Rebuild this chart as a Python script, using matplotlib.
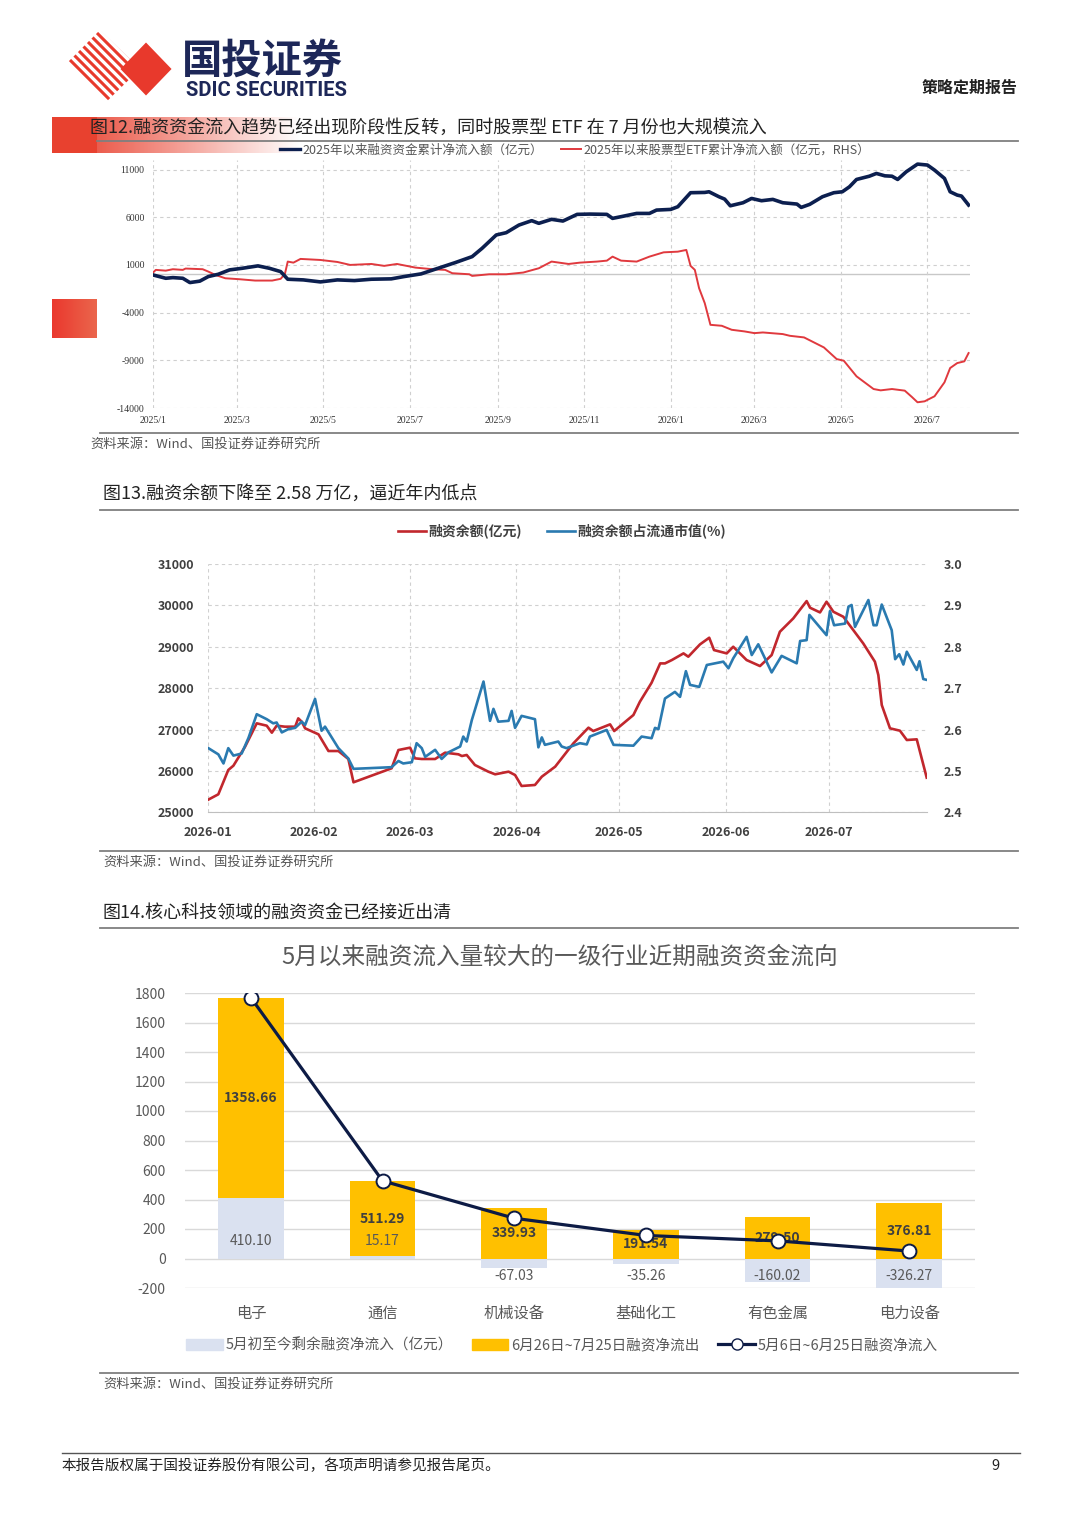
import numpy as np
import pandas as pd
import matplotlib
matplotlib.use("Agg")
import matplotlib.pyplot as plt
from matplotlib.lines import Line2D
from matplotlib.patches import Rectangle, Polygon

plt.rcParams['font.family'] = ['Noto Sans CJK SC', 'DejaVu Sans']
plt.rcParams['axes.unicode_minus'] = False

# ---------------- data: chart 12 (cumulative flows since 2025) ----------------
margin_dates = ["2025-01-01", "2025-01-10", "2025-01-15", "2025-01-22", "2025-01-27",
                "2025-02-03", "2025-02-09", "2025-02-16", "2025-02-24", "2025-03-05",
                "2025-03-16", "2025-03-24", "2025-04-01", "2025-04-06", "2025-04-17",
                "2025-04-29", "2025-05-11", "2025-05-23", "2025-06-04", "2025-06-18",
                "2025-06-27", "2025-07-09", "2025-07-21", "2025-08-02", "2025-08-14",
                "2025-08-21", "2025-08-31", "2025-09-07", "2025-09-16", "2025-09-25",
                "2025-09-30", "2025-10-09", "2025-10-17", "2025-10-27", "2025-11-05",
                "2025-11-17", "2025-11-21", "2025-11-29", "2025-12-08", "2025-12-17",
                "2025-12-22", "2026-01-01", "2026-01-06", "2026-01-15", "2026-01-25",
                "2026-01-28", "2026-02-04", "2026-02-08", "2026-02-12", "2026-02-21",
                "2026-02-27", "2026-03-06", "2026-03-14", "2026-03-21", "2026-03-31",
                "2026-04-03", "2026-04-09", "2026-04-18", "2026-04-26", "2026-05-02",
                "2026-05-07", "2026-05-12", "2026-05-21", "2026-05-26", "2026-06-01",
                "2026-06-06", "2026-06-10", "2026-06-16", "2026-06-24", "2026-07-01",
                "2026-07-06", "2026-07-13", "2026-07-17", "2026-07-22", "2026-07-25",
                "2026-07-30"]
margin_flow = [-50, -400, -330, -400, -850, -700, -220, 20, 480, 650, 900, 650, 300,
               -500, -570, -780, -570, -640, -500, -460, -220, 60, 650, 1240, 1870,
               2740, 4140, 4380, 5180, 5640, 5360, 5780, 5600, 6300, 6330, 6300, 5880,
               6120, 6400, 6400, 6750, 6820, 7100, 8570, 8600, 8670, 8150, 7900, 7200,
               7520, 7970, 7730, 7870, 7520, 7380, 7030, 7350, 8150, 8570, 8670, 9190,
               9960, 10300, 10590, 10340, 10300, 9960, 10760, 11570, 11470, 10940,
               10070, 8670, 8320, 8220, 7280]

etf_dates = ["2025-01-01", "2025-01-03", "2025-01-10", "2025-01-15", "2025-01-22",
             "2025-01-24", "2025-02-05", "2025-02-09", "2025-02-14", "2025-02-21",
             "2025-03-03", "2025-03-14", "2025-03-26", "2025-04-01", "2025-04-04",
             "2025-04-06", "2025-04-10", "2025-04-15", "2025-04-29", "2025-05-11",
             "2025-05-20", "2025-06-04", "2025-06-13", "2025-06-22", "2025-07-05",
             "2025-07-17", "2025-07-26", "2025-07-31", "2025-08-12", "2025-08-14",
             "2025-08-26", "2025-09-07", "2025-09-19", "2025-09-30", "2025-10-09",
             "2025-10-21", "2025-10-29", "2025-11-10", "2025-11-17", "2025-11-21",
             "2025-11-27", "2025-12-08", "2025-12-17", "2025-12-27", "2026-01-06",
             "2026-01-12", "2026-01-15", "2026-01-18", "2026-01-21", "2026-01-25",
             "2026-01-29", "2026-02-06", "2026-02-13", "2026-02-22", "2026-03-01",
             "2026-03-07", "2026-03-21", "2026-03-26", "2026-04-05", "2026-04-19",
             "2026-04-28", "2026-05-03", "2026-05-12", "2026-05-24", "2026-05-29",
             "2026-06-06", "2026-06-15", "2026-06-20", "2026-06-24", "2026-06-29",
             "2026-07-06", "2026-07-13", "2026-07-17", "2026-07-22", "2026-07-27",
             "2026-07-30"]
etf_flow = [200, 480, 400, 550, 480, 620, 550, 300, -50, -400, -500, -640, -640, -460,
            60, 1350, 1240, 1630, 1520, 1310, 1000, 1100, 900, 1100, 720, 550, 480, 130,
            20, -150, 20, 20, 200, 650, 1350, 1100, 1240, 1350, 1450, 1870, 1450, 1350,
            1870, 2320, 2390, 2570, 900, 480, -1440, -3010, -5280, -5380, -5800, -5970,
            -6150, -6080, -6250, -6430, -6600, -7650, -8870, -9040, -10680, -12010,
            -12150, -12010, -12180, -12840, -13400, -13300, -12770, -11310, -9810,
            -9290, -9110, -8240]

# ---------------- data: chart 13 (margin balance, days since 2026-01-01) ----------------
bal_day = [0.0, 3.1, 6.0, 7.5, 10.9, 14.3, 17.2, 18.7, 20.1, 22.5, 25.5, 26.4, 27.4, 28.4,
           32.3, 35.2, 38.1, 41.0, 42.5, 53.6, 55.6, 59.0, 60.4, 62.4, 66.3, 69.2, 73.1,
           74.1, 75.5, 77.9, 81.8, 83.8, 87.7, 89.6, 91.5, 95.4, 97.4, 101.3, 106.6,
           111.0, 112.4, 117.3, 118.5, 124.1, 126.0, 129.4, 131.9, 133.3, 135.3, 138.7,
           140.1, 143.5, 146.2, 147.6, 151.3, 153.2, 157.1, 161.0, 164.4, 166.8, 170.7,
           174.6, 175.6, 178.5, 180.4, 182.4, 185.3, 188.2, 191.1, 194.5, 195.5, 196.5,
           198.9, 201.8, 203.8, 206.7, 209.6]
balance = [25298, 25435, 26022, 26127, 26586, 27150, 27093, 26924, 27093, 27069, 27069,
           27270, 27190, 27029, 26884, 26481, 26481, 26288, 25725, 26063, 26505, 26562,
           26304, 26288, 26288, 26441, 26401, 26360, 26385, 26143, 25982, 25918, 25982,
           25901, 25636, 25660, 25861, 26103, 26666, 27045, 26964, 27125, 26964, 27351,
           27673, 28131, 28598, 28598, 28679, 28840, 28760, 29057, 29218, 28920, 28840,
           29001, 28679, 28534, 28800, 29363, 29685, 30104, 29943, 29830, 30088, 29846,
           29725, 29403, 29081, 28639, 28317, 27592, 27029, 26972, 26747, 26763, 25837]

ratio_day = [0.0, 3.1, 4.6, 6.0, 7.5, 9.9, 11.9, 14.3, 17.2, 19.1, 20.1, 21.6, 23.5, 25.5,
             27.4, 28.4, 31.3, 33.2, 34.2, 38.1, 41.0, 42.5, 53.6, 55.6, 57.0, 59.5, 60.9,
             62.4, 63.4, 66.3, 68.2, 70.2, 73.6, 74.5, 75.5, 77.0, 80.4, 82.3, 83.3, 84.7,
             87.7, 88.6, 89.6, 91.5, 95.4, 96.4, 97.4, 98.3, 102.2, 103.2, 104.6, 108.5,
             110.5, 111.4, 116.3, 118.3, 124.1, 126.5, 129.4, 130.4, 131.4, 133.3, 136.2,
             137.7, 139.4, 140.6, 143.3, 145.5, 147.9, 150.3, 151.8, 153.2, 157.1, 158.6,
             160.5, 164.4, 167.3, 171.7, 172.7, 174.6, 175.4, 180.4, 181.4, 182.6, 185.8,
             186.8, 187.7, 188.7, 192.6, 194.1, 195.0, 196.5, 199.4, 200.4, 201.6, 202.8,
             203.8, 206.7, 207.5, 208.6, 209.6]
ratio = [2.556, 2.540, 2.518, 2.555, 2.537, 2.542, 2.580, 2.637, 2.625, 2.615, 2.617,
         2.593, 2.601, 2.604, 2.619, 2.611, 2.674, 2.597, 2.607, 2.555, 2.530, 2.505,
         2.509, 2.524, 2.518, 2.521, 2.567, 2.555, 2.534, 2.551, 2.529, 2.545, 2.559,
         2.583, 2.571, 2.623, 2.716, 2.621, 2.650, 2.619, 2.621, 2.645, 2.604, 2.633,
         2.625, 2.557, 2.581, 2.563, 2.571, 2.559, 2.555, 2.567, 2.564, 2.583, 2.599,
         2.563, 2.561, 2.583, 2.579, 2.604, 2.601, 2.675, 2.691, 2.679, 2.741, 2.708,
         2.703, 2.756, 2.760, 2.764, 2.748, 2.772, 2.824, 2.780, 2.806, 2.738, 2.778,
         2.760, 2.814, 2.816, 2.877, 2.828, 2.886, 2.852, 2.856, 2.897, 2.901, 2.848,
         2.913, 2.852, 2.852, 2.902, 2.840, 2.770, 2.782, 2.757, 2.788, 2.744, 2.765,
         2.722, 2.720]
month_labels = ["2026-01", "2026-02", "2026-03", "2026-04", "2026-05", "2026-06", "2026-07"]
month_start_day = [0, 31, 59, 90, 120, 151, 181]

# ---------------- data: chart 14 (industries) ----------------
industries = ["电子", "通信", "机械设备", "基础化工", "有色金属", "电力设备"]
remaining = [410.10, 15.17, -67.03, -35.26, -160.02, -326.27]
outflow = [1358.66, 511.29, 339.93, 191.54, 279.50, 376.81]
inflow = [1768.76, 526.46, 272.90, 156.28, 119.48, 50.54]

# ---------------- figure ----------------
W, H = 1080, 1527
fig = plt.figure(figsize=(W / 100, H / 100), dpi=100)


def box(x0, y0, x1, y1):
    # pixel box (top-left origin) -> figure rect
    return [x0 / W, 1 - y1 / H, (x1 - x0) / W, (y1 - y0) / H]


deco = fig.add_axes([0, 0, 1, 1], zorder=0)
deco.set_xlim(0, W)
deco.set_ylim(H, 0)
deco.axis('off')

# logo: striped half and solid diamond
logo_red = '#e8392c'
clip = Polygon([(100, 30), (140, 69), (100, 108), (61, 69)], closed=True,
               transform=deco.transData, facecolor='none', edgecolor='none')
deco.add_patch(clip)
for k in range(11):
    x0 = 40 + k * 9
    ln, = deco.plot([x0, x0 + 70], [30, 100], color=logo_red, lw=2.2,
                    solid_capstyle='butt')
    ln.set_clip_path(clip)
deco.add_patch(Polygon([(146, 41), (173, 69), (146, 97), (119, 69)], closed=True,
                       facecolor=logo_red, edgecolor='white', lw=1.5))
deco.text(182, 61, "国投证券", fontsize=29, fontweight='bold', color='#1d2758',
          va='center', ha='left')
deco.text(186, 90, "SDIC SECURITIES", fontsize=14.5, fontweight='bold', color='#1d2758',
          va='center', ha='left', family=['Roboto', 'DejaVu Sans'])
deco.text(1018, 88, "策略定期报告", fontsize=11.5, fontweight='bold', color='#222222',
          va='center', ha='right')

# red gradient decorations
grad = np.zeros((1, 256, 4))
grad[..., 0], grad[..., 1], grad[..., 2] = 0.91, 0.25, 0.18
grad[0, :, 3] = np.linspace(0.85, 0.0, 256)
deco.imshow(grad, extent=(97, 300, 153, 117), aspect='auto', interpolation='bilinear')
deco.add_patch(Rectangle((52, 117), 45, 36, facecolor='#e8412f', edgecolor='none'))
sq = np.zeros((1, 64, 4))
sq[..., 0] = 0.92
sq[0, :, 1] = np.linspace(0.22, 0.40, 64)
sq[0, :, 2] = np.linspace(0.18, 0.30, 64)
sq[..., 3] = 1
deco.imshow(sq, extent=(52, 97, 338, 299), aspect='auto', interpolation='bilinear')

# section titles, rules and sources
rule = '#7f7f7f'
deco.text(90, 128, "图12.融资资金流入趋势已经出现阶段性反转，同时股票型 ETF 在 7 月份也大规模流入",
          fontsize=13, color='#222222', va='center')
deco.plot([97, 1018], [141, 141], color=rule, lw=1.3)
deco.plot([100, 1018], [433, 433], color=rule, lw=1.3)
deco.text(90, 444, "资料来源：Wind、国投证券证券研究所", fontsize=9.5, color='#555555',
          va='center', style='italic')

deco.text(103, 494, "图13.融资余额下降至 2.58 万亿，逼近年内低点", fontsize=13,
          color='#222222', va='center')
deco.plot([100, 1018], [510, 510], color=rule, lw=1.3)
deco.plot([100, 1018], [851, 851], color=rule, lw=1.3)
deco.text(103, 862, "资料来源：Wind、国投证券证券研究所", fontsize=9.5, color='#555555',
          va='center', style='italic')

deco.text(103, 913, "图14.核心科技领域的融资资金已经接近出清", fontsize=13,
          color='#222222', va='center')
deco.plot([100, 1018], [928, 928], color=rule, lw=1.3)
deco.plot([100, 1018], [1373, 1373], color=rule, lw=1.3)
deco.text(103, 1384, "资料来源：Wind、国投证券证券研究所", fontsize=9.5, color='#555555',
          va='center', style='italic')

deco.plot([62, 1020], [1453, 1453], color='#555555', lw=1.0)
deco.text(62, 1466, "本报告版权属于国投证券股份有限公司，各项声明请参见报告尾页。",
          fontsize=10.5, color='#222222', va='center')
deco.text(1000, 1466, "9", fontsize=10.5, color='#222222', va='center', ha='right')

# ---------------- chart 12 ----------------
navy = '#0c1f4f'
red1 = '#e0393e'
ax1 = fig.add_axes(box(153, 160, 970, 408), zorder=2)
ax1.patch.set_alpha(0)
ax1.axhline(0, color='#c8c8c8', lw=1.0, zorder=1)
ax1.plot(pd.to_datetime(etf_dates), etf_flow, color=red1, lw=1.4, zorder=3)
ax1.plot(pd.to_datetime(margin_dates), margin_flow, color=navy, lw=2.6, zorder=4)
ax1.set_xlim(pd.Timestamp("2025-01-01"), pd.Timestamp("2026-07-31"))
ax1.set_ylim(-14000, 12000)
ax1.set_yticks([-14000, -9000, -4000, 1000, 6000, 11000])
x1_ticks = pd.date_range("2025-01-01", "2026-07-01", freq="2MS")
ax1.set_xticks(x1_ticks)
ax1.set_xticklabels([f"{d.year}/{d.month}" for d in x1_ticks])
for lab in ax1.get_xticklabels() + ax1.get_yticklabels():
    lab.set_family(['Liberation Serif', 'DejaVu Serif'])
    lab.set_fontsize(7)
    lab.set_color('#333333')
ax1.tick_params(length=0, pad=6)
ax1.grid(True, color='#cfcfcf', lw=0.8, ls=(0, (3, 3)))
for s in ax1.spines.values():
    s.set_visible(False)

h1 = [Line2D([], [], color=navy, lw=2.4), Line2D([], [], color=red1, lw=1.4)]
fig.legend(h1, ["2025年以来融资资金累计净流入额（亿元）", "2025年以来股票型ETF累计净流入额（亿元，RHS）"],
           loc='center', bbox_to_anchor=(575 / W, 1 - 150 / H), ncol=2, frameon=False,
           fontsize=9, handlelength=1.6, handletextpad=0.2, columnspacing=1.5,
           labelcolor='#555555')

# ---------------- chart 13 ----------------
red2 = '#c1272d'
blue2 = '#2a7ab0'
ax2 = fig.add_axes(box(207.7, 564, 926.7, 812.3), zorder=2)
ax2.patch.set_alpha(0)
ax2.plot(bal_day, balance, color=red2, lw=1.9, zorder=3)
ax2.set_xlim(0, 209.6)
ax2.set_ylim(25000, 31000)
ax2.set_yticks(np.arange(25000, 31001, 1000))
ax2.set_xticks(month_start_day)
ax2.set_xticklabels(month_labels)
ax2.grid(True, color='#d0d0d0', lw=0.8, ls=(0, (3, 3)))
ax2.tick_params(length=0, pad=10, labelsize=9, labelcolor='#404040')
for lab in ax2.get_xticklabels() + ax2.get_yticklabels():
    lab.set_fontweight('bold')
for k, s in ax2.spines.items():
    s.set_visible(k == 'bottom')
ax2.spines['bottom'].set_color('#bfbfbf')

ax2r = ax2.twinx()
ax2r.plot(ratio_day, ratio, color=blue2, lw=1.9, zorder=3)
ax2r.set_ylim(2.4, 3.0)
ax2r.set_yticks(np.round(np.arange(2.4, 3.01, 0.1), 1))
ax2r.set_yticklabels([f"{v:.1f}" for v in np.arange(2.4, 3.01, 0.1)])
ax2r.tick_params(length=0, pad=12, labelsize=9, labelcolor='#404040')
for lab in ax2r.get_yticklabels():
    lab.set_fontweight('bold')
for s in ax2r.spines.values():
    s.set_visible(False)

h2 = [Line2D([], [], color=red2, lw=1.9), Line2D([], [], color=blue2, lw=1.9)]
fig.legend(h2, ["融资余额(亿元)", "融资余额占流通市值(%)"], loc='center',
           bbox_to_anchor=(562 / W, 1 - 531 / H), ncol=2, frameon=False,
           handlelength=2.0, handletextpad=0.2, columnspacing=1.8,
           labelcolor='#404040', prop={'weight': 'bold', 'size': 10})

# ---------------- chart 14 ----------------
light = '#dae1f0'
gold = '#ffc000'
line3 = '#0d1b45'
ax3 = fig.add_axes(box(185, 993, 975, 1288), zorder=2)
ax3.patch.set_alpha(0)
x = np.arange(len(industries))
rem = np.array(remaining)
out = np.array(outflow)
ax3.bar(x, rem, width=0.5, color=light, zorder=2)
ax3.bar(x, out, width=0.5, bottom=np.clip(rem, 0, None), color=gold, zorder=2)
for i in range(len(x)):
    base = max(rem[i], 0)
    ax3.text(x[i], base + out[i] / 2, f"{out[i]:.2f}", ha='center', va='center',
             fontsize=10, fontweight='bold', color='#3f3f3f', zorder=3)
    ax3.text(x[i], 120 if rem[i] > 0 else -120, f"{rem[i]:.2f}", ha='center',
             va='center', fontsize=10, color='#595959', zorder=3)
ax3.plot(x, inflow, color=line3, lw=2.3, marker='o', ms=10, mfc='white', mec=line3,
         mew=1.4, zorder=5)
ax3.set_xlim(-0.5, len(x) - 0.5)
ax3.set_ylim(-200, 1800)
ax3.set_yticks(np.arange(-200, 1801, 200))
ax3.set_xticks(x)
ax3.set_xticklabels(industries)
ax3.yaxis.grid(True, color='#d9d9d9', lw=1.0)
ax3.set_axisbelow(True)
ax3.tick_params(axis='y', length=0, pad=14, labelsize=10, labelcolor='#595959')
ax3.tick_params(axis='x', length=0, pad=12, labelsize=11, labelcolor='#595959')
for s in ax3.spines.values():
    s.set_visible(False)
deco.text(560, 957, "5月以来融资流入量较大的一级行业近期融资资金流向", fontsize=17,
          color='#595959', ha='center', va='center')

h3 = [Rectangle((0, 0), 1, 1, color=light), Rectangle((0, 0), 1, 1, color=gold),
      Line2D([], [], color=line3, lw=2.3, marker='o', ms=8, mfc='white', mec=line3)]
fig.legend(h3, ["5月初至今剩余融资净流入（亿元）", "6月26日~7月25日融资净流出", "5月6日~6月25日融资净流入"],
           loc='center', bbox_to_anchor=(562 / W, 1 - 1345 / H), ncol=3, frameon=False,
           fontsize=10.5, handlelength=2.5, handleheight=0.8, handletextpad=0.2,
           columnspacing=1.3, labelcolor='#595959')

fig.savefig("out.png", dpi=100)
